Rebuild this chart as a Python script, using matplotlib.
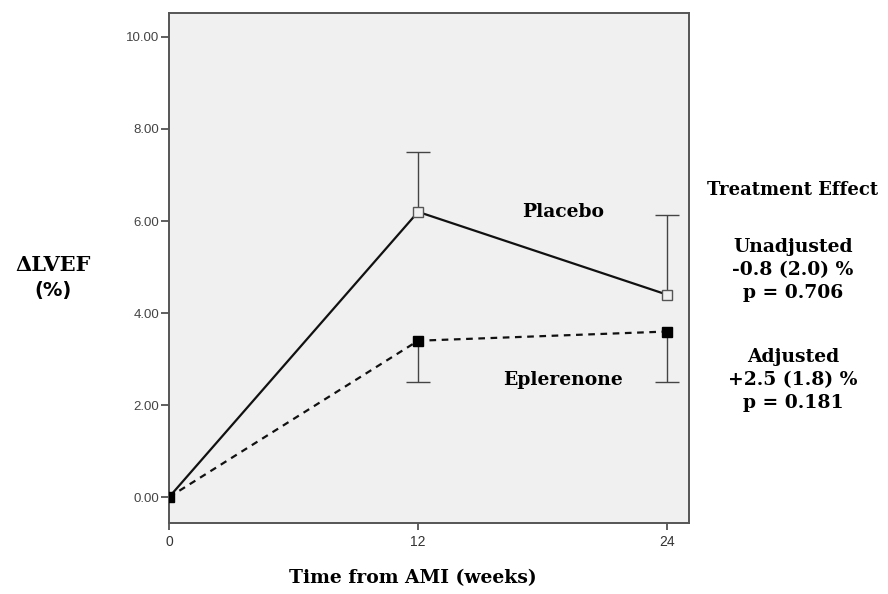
import numpy as np
import matplotlib.pyplot as plt

weeks = [0, 12, 24]
placebo = [0.0, 6.2, 4.4]
placebo_upper = [0.0, 7.5, 6.13]
eplerenone = [0.0, 3.4, 3.6]
eplerenone_lower = [0.0, 2.5, 2.5]
yticks = [0, 2, 4, 6, 8, 10]

effect_lines = ["Treatment Effect", "Unadjusted", "-0.8 (2.0) %", "p = 0.706",
                "Adjusted", "+2.5 (1.8) %", "p = 0.181"]
effect_y = [190, 247, 270, 293, 357, 380, 403]

serif = {"family": "DejaVu Serif", "weight": "bold"}

fig = plt.figure(figsize=(8.88, 5.94), dpi=100)
ax = fig.add_axes([169 / 888, 1 - 523 / 594, 520 / 888, 510 / 594])
ax.set_facecolor("#f0f0f0")

x = np.array(weeks)
p = np.array(placebo)
e = np.array(eplerenone)

# one-sided error bars: placebo upward, eplerenone downward
bar_col = "#444444"
ax.vlines(x[1:], p[1:], placebo_upper[1:], color=bar_col, lw=1, zorder=2)
ax.plot(x[1:], placebo_upper[1:], "_", ms=17, mew=1, color=bar_col, zorder=2)
ax.vlines(x[1:], eplerenone_lower[1:], e[1:], color=bar_col, lw=1, zorder=2)
ax.plot(x[1:], eplerenone_lower[1:], "_", ms=17, mew=1, color=bar_col, zorder=2)

ax.plot(x, p, color="#111111", lw=1.6, zorder=3)
ax.plot(x[1:], p[1:], "s", ms=7, mfc="#f0f0f0", mec="#555555", mew=1, zorder=4)
ax.plot(x, e, color="#111111", lw=1.6, ls=(0, (3, 2.5)), zorder=3)
ax.plot(x, e, "s", ms=7.5, color="black", zorder=5)

ax.set_xlim(0, 25.05)
ax.set_ylim(-0.56, 10.52)
ax.set_xticks(weeks)
ax.set_xticklabels([str(w) for w in weeks], fontsize=10, color="#333333",
                   family="Liberation Sans")
ax.set_yticks(yticks)
ax.set_yticklabels(["%.2f" % v for v in yticks], fontsize=9.5, color="#444444",
                   family="Liberation Sans")
ax.tick_params(axis="y", length=6, width=1.2, color="#444444", pad=1)
ax.tick_params(axis="x", length=5, width=1.2, color="#444444", pad=4)
for s in ax.spines.values():
    s.set_color("#555555")
    s.set_linewidth(1.4)

ax.text(19.0, 6.2, "Placebo", ha="center", va="center", fontsize=13.5, **serif)
ax.text(19.0, 2.55, "Eplerenone", ha="center", va="center", fontsize=13.5, **serif)

for txt, yy in zip(effect_lines, effect_y):
    fig.text(793 / 888, 1 - yy / 594, txt, ha="center", va="center",
             fontsize=13.5 if txt != "Treatment Effect" else 13, **serif)

fig.text(53 / 888, 1 - 265 / 594, "\u0394LVEF", ha="center", va="center",
         fontsize=15, **serif)
fig.text(53 / 888, 1 - 291 / 594, "(%)", ha="center", va="center",
         fontsize=14, family="DejaVu Sans", weight="bold")
fig.text(413 / 888, 1 - 578 / 594, "Time from AMI (weeks)", ha="center",
         va="center", fontsize=13.5, **serif)

fig.savefig("out.png", dpi=100)
